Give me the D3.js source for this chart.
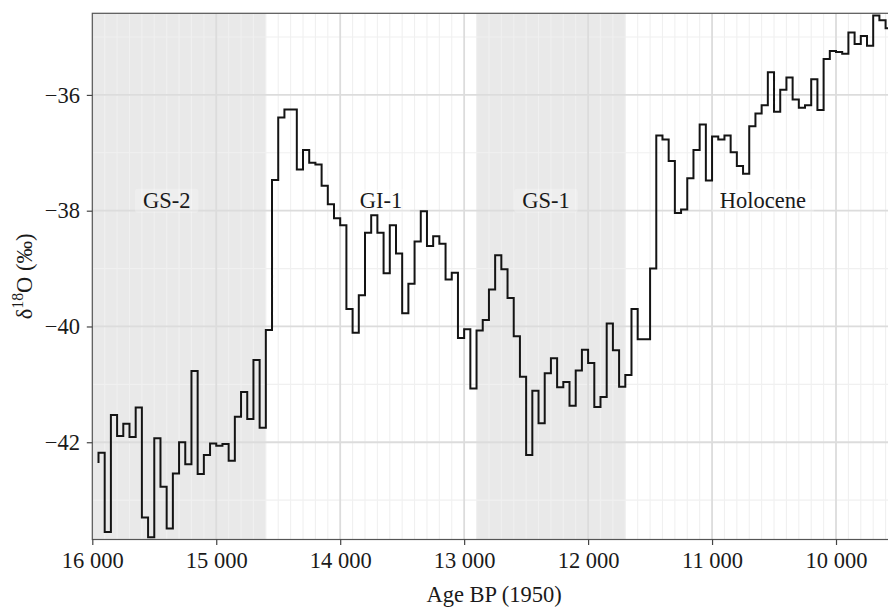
<!DOCTYPE html>
<html>
<head>
<meta charset="utf-8">
<script src="https://cdn.jsdelivr.net/npm/d3@7"></script>
<style>
  body { margin: 0; background: #fff; }
  svg { display: block; }
  text { font-family: "Liberation Serif", "Times New Roman", serif; fill: #1a1a1a; }
</style>
</head>
<body>
<script>
// 50-year δ18O record, ages in years BP (1950)
const ages = [
  15950, 15900, 15850, 15800, 15750, 15700, 15650, 15600, 15550, 15500,
  15450, 15400, 15350, 15300, 15250, 15200, 15150, 15100, 15050, 15000,
  14950, 14900, 14850, 14800, 14750, 14700, 14650, 14600, 14550, 14500,
  14450, 14400, 14350, 14300, 14250, 14200, 14150, 14100, 14050, 14000,
  13950, 13900, 13850, 13800, 13750, 13700, 13650, 13600, 13550, 13500,
  13450, 13400, 13350, 13300, 13250, 13200, 13150, 13100, 13050, 13000,
  12950, 12900, 12850, 12800, 12750, 12700, 12650, 12600, 12550, 12500,
  12450, 12400, 12350, 12300, 12250, 12200, 12150, 12100, 12050, 12000,
  11950, 11900, 11850, 11800, 11750, 11700, 11650, 11600, 11550, 11500,
  11450, 11400, 11350, 11300, 11250, 11200, 11150, 11100, 11050, 11000,
  10950, 10900, 10850, 10800, 10750, 10700, 10650, 10600, 10550, 10500,
  10450, 10400, 10350, 10300, 10250, 10200, 10150, 10100, 10050, 10000,
  9950, 9900, 9850, 9800, 9750, 9700, 9650, 9600, 9550
];
const d18O = [
  -42.36, -42.18, -43.55, -41.53, -41.89, -41.68, -41.91, -41.40, -43.30, -43.64,
  -41.93, -42.77, -43.49, -42.54, -42.00, -42.38, -40.77, -42.55, -42.22, -42.02,
  -42.06, -42.03, -42.32, -41.56, -41.13, -41.60, -40.58, -41.75, -40.06, -37.47,
  -36.39, -36.25, -36.25, -37.29, -36.95, -37.17, -37.20, -37.57, -37.89, -38.13,
  -38.25, -39.70, -40.11, -39.46, -38.38, -38.08, -38.38, -39.08, -38.25, -38.74,
  -39.77, -39.26, -38.53, -38.01, -38.61, -38.44, -38.57, -39.19, -39.07, -40.20,
  -40.05, -41.07, -40.07, -39.89, -39.36, -38.77, -39.01, -39.51, -40.17, -40.87,
  -42.22, -41.11, -41.67, -40.81, -40.55, -41.05, -40.96, -41.37, -40.76, -40.40,
  -40.63, -41.39, -41.22, -39.95, -40.41, -41.04, -40.84, -39.70, -40.22, -40.22,
  -39.00, -36.70, -36.77, -37.14, -38.04, -37.98, -37.44, -36.95, -36.51, -37.48,
  -36.72, -36.77, -36.70, -36.99, -37.23, -37.36, -36.54, -36.32, -36.18, -35.61,
  -36.29, -35.91, -35.70, -36.08, -36.22, -36.18, -35.73, -36.26, -35.38, -35.24,
  -35.26, -35.29, -34.92, -35.12, -34.98, -35.15, -34.63, -34.71, -34.85
];

// Greenland stadials (shaded)
const stadialOlder = [16000, 12900];
const stadialYounger = [14600, 11700];

// Period names and where they are written
const periodNames = ["GS-2", "GI-1", "GS-1", "Holocene"];
const periodLabelAge = [15400, 13670, 12340, 10590];
const periodLabelLevel = -37.82;

const xTicks = [16000, 15000, 14000, 13000, 12000, 11000, 10000];
const yTicks = [-42, -40, -38, -36];
const xMinorStep = 100;
const yMinor = [-43, -41, -39, -37, -35];

const W = 888, H = 607;
const panel = { left: 92.3, right: 896, top: 13.3, bottom: 539.5 };
const fs = 22.5;

const x = d3.scaleLinear().domain([16000, 9516]).range([panel.left, panel.right]);
const y = d3.scaleLinear().domain([-43.68, -34.59]).range([panel.bottom, panel.top]);

const svg = d3.select("body").append("svg")
  .attr("width", W).attr("height", H)
  .attr("viewBox", `0 0 ${W} ${H}`);

svg.append("rect").attr("width", W).attr("height", H).attr("fill", "#fff");

svg.append("clipPath").attr("id", "panel-clip")
  .append("rect")
  .attr("x", panel.left).attr("y", panel.top)
  .attr("width", panel.right - panel.left).attr("height", panel.bottom - panel.top);

const g = svg.append("g").attr("clip-path", "url(#panel-clip)");

// stadial shading
g.selectAll("rect.stadial")
  .data(stadialOlder.map((o, i) => ({ o, yng: stadialYounger[i] })))
  .join("rect")
  .attr("class", "stadial")
  .attr("x", d => x(d.o))
  .attr("y", panel.top)
  .attr("width", d => x(d.yng) - x(d.o))
  .attr("height", panel.bottom - panel.top)
  .attr("fill", "#e9e9e9");

// minor grid
const [xMax, xMin] = x.domain();
const xMinor = [];
for (let a = Math.ceil(xMin / xMinorStep) * xMinorStep; a <= xMax; a += xMinorStep) {
  if (a % 1000 !== 0) xMinor.push(a);
}
g.selectAll("line.vminor").data(xMinor).join("line")
  .attr("x1", d => x(d)).attr("x2", d => x(d))
  .attr("y1", panel.top).attr("y2", panel.bottom)
  .attr("stroke", "#f0f0f0").attr("stroke-width", 1.1);
g.selectAll("line.hminor").data(yMinor).join("line")
  .attr("x1", panel.left).attr("x2", panel.right)
  .attr("y1", d => y(d)).attr("y2", d => y(d))
  .attr("stroke", "#f0f0f0").attr("stroke-width", 1.1);

// major grid
g.selectAll("line.vmajor").data(xTicks).join("line")
  .attr("x1", d => x(d)).attr("x2", d => x(d))
  .attr("y1", panel.top).attr("y2", panel.bottom)
  .attr("stroke", "#dcdcdc").attr("stroke-width", 1.8);
g.selectAll("line.hmajor").data(yTicks).join("line")
  .attr("x1", panel.left).attr("x2", panel.right)
  .attr("y1", d => y(d)).attr("y2", d => y(d))
  .attr("stroke", "#dcdcdc").attr("stroke-width", 1.8);

// period labels with a faint backing box
const labels = g.selectAll("g.plabel")
  .data(periodNames.map((n, i) => ({ n, a: periodLabelAge[i] })))
  .join("g").attr("class", "plabel");
labels.append("rect");
labels.append("text")
  .attr("x", d => x(d.a))
  .attr("y", y(periodLabelLevel) + 7.4)
  .attr("text-anchor", "middle")
  .attr("font-size", fs)
  .text(d => d.n);
labels.each(function () {
  const t = d3.select(this).select("text").node().getBBox();
  d3.select(this).select("rect")
    .attr("x", t.x - 8).attr("y", t.y + 1)
    .attr("width", t.width + 16).attr("height", t.height - 1)
    .attr("rx", 3)
    .attr("fill", "#ffffff").attr("fill-opacity", 0.25);
});

// δ18O step curve
const line = d3.line()
  .x((d, i) => x(ages[i]))
  .y(d => y(d))
  .curve(d3.curveStepBefore);
g.append("path")
  .datum(d18O)
  .attr("d", line)
  .attr("fill", "none")
  .attr("stroke", "#141414")
  .attr("stroke-width", 2)
  .attr("stroke-linejoin", "miter");

// panel border
svg.append("rect")
  .attr("x", panel.left).attr("y", panel.top)
  .attr("width", panel.right - panel.left).attr("height", panel.bottom - panel.top)
  .attr("fill", "none").attr("stroke", "#555").attr("stroke-width", 1.2);

// axes
const fmtX = d3.formatLocale({ decimal: ".", thousands: " ", grouping: [3], currency: ["", ""] }).format(",");
const fmtY = d3.format("d");

const xAxis = svg.append("g")
  .attr("transform", `translate(0,${panel.bottom})`)
  .call(d3.axisBottom(x).tickValues(xTicks).tickFormat(fmtX).tickSize(5.5).tickPadding(7.3));
const yAxis = svg.append("g")
  .attr("transform", `translate(${panel.left},0)`)
  .call(d3.axisLeft(y).tickValues(yTicks).tickFormat(fmtY).tickSize(5.5).tickPadding(6.8));

[xAxis, yAxis].forEach(ax => {
  ax.select(".domain").remove();
  ax.selectAll(".tick line").attr("stroke", "#444").attr("stroke-width", 1.2);
  ax.selectAll(".tick text")
    .attr("font-size", fs)
    .attr("font-family", "'Liberation Serif', 'Times New Roman', serif")
    .attr("fill", "#1a1a1a");
});

// axis titles
svg.append("text")
  .attr("x", (panel.left + panel.right) / 2)
  .attr("y", 601.5)
  .attr("text-anchor", "middle")
  .attr("font-size", fs)
  .text("Age BP (1950)");

const yTitle = svg.append("text")
  .attr("transform", `translate(32,${(panel.top + panel.bottom) / 2}) rotate(-90)`)
  .attr("text-anchor", "middle")
  .attr("font-size", fs);
yTitle.append("tspan").text("δ");
yTitle.append("tspan").attr("font-size", fs * 0.7).attr("dy", -9.5).text("18");
yTitle.append("tspan").attr("dy", 9.5).text("O (‰)");
</script>
</body>
</html>
